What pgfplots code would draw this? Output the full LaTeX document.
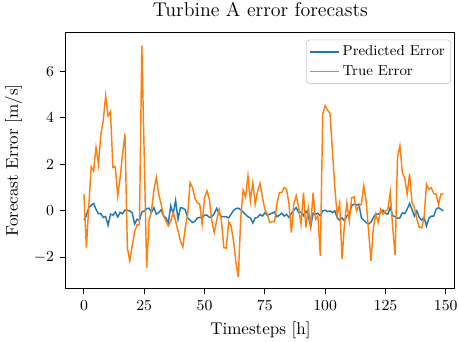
\documentclass[border=0pt]{standalone}
\usepackage{pgfplots}
\pgfplotsset{compat=1.18}
\definecolor{tabblue}{HTML}{1F77B4}
\definecolor{taborange}{HTML}{FF7F0E}
\pgfplotstableread{
t pred true
0 -0.40 0.72
1 -0.20 -1.58
2 0.14 0.20
3 0.24 1.90
4 0.32 1.72
5 0.07 2.73
6 -0.12 2.00
7 -0.12 3.30
8 -0.28 3.88
9 -0.24 4.96
10 -0.62 4.09
11 -0.14 4.28
12 -0.18 1.87
13 -0.05 1.90
14 -0.26 0.65
15 -0.06 1.44
16 -0.12 2.44
17 0.04 3.33
18 0.03 -1.60
19 0.00 -2.15
20 -0.08 -1.50
21 -0.56 -0.90
22 -0.36 -0.60
23 -0.40 -0.60
24 -0.05 7.11
25 0.00 2.30
26 0.10 -2.45
27 0.12 -0.40
28 -0.07 0.00
29 0.14 0.90
30 -0.14 1.44
31 -0.07 0.72
32 0.05 0.29
33 -0.22 -0.22
34 -0.30 -0.43
35 -0.50 -0.65
36 0.22 -0.43
37 -0.14 -0.07
38 0.45 -0.43
39 -0.36 -0.86
40 0.14 -1.29
41 0.12 -1.55
42 0.05 -0.72
43 -0.30 -0.14
44 -0.40 1.22
45 -0.50 1.01
46 -0.45 0.55
47 -0.30 0.36
48 -0.28 0.29
49 -0.30 -0.57
50 -0.18 0.57
51 -0.18 0.86
52 -0.28 0.50
53 -0.25 -0.43
54 -0.12 -0.93
55 0.11 -0.43
56 -0.10 0.07
57 -0.25 -0.43
58 -0.25 -1.58
59 -0.25 -1.60
60 -0.30 -0.46
61 -0.14 -0.65
62 0.02 -1.29
63 0.10 -2.20
64 0.12 -2.85
65 0.05 -0.30
66 -0.05 0.90
67 -0.15 0.60
68 -0.25 1.51
69 -0.30 0.43
70 -0.52 1.22
71 -0.30 0.29
72 -0.28 0.86
73 -0.15 1.18
74 -0.22 0.57
75 -0.08 0.07
76 -0.18 -0.14
77 -0.14 -0.50
78 -0.10 -0.46
79 -0.05 -0.46
80 -0.25 0.29
81 -0.18 0.79
82 -0.10 0.79
83 -0.22 1.01
84 -0.15 0.93
85 -0.28 0.30
86 -0.10 -0.93
87 0.03 0.29
88 0.14 0.65
89 -0.07 0.14
90 -0.05 -0.57
91 -0.20 0.79
92 0.00 -0.72
93 -0.18 0.14
94 -0.70 -0.65
95 -0.10 0.79
96 -0.15 -0.36
97 -0.10 -0.22
98 -0.20 -1.94
99 0.00 4.17
100 0.03 4.53
101 -0.03 4.34
102 0.00 4.20
103 -0.07 2.60
104 0.00 1.00
105 -0.29 -0.20
106 -0.40 0.33
107 -0.30 -2.08
108 -0.43 -0.60
109 -0.22 0.36
110 -0.14 -0.43
111 0.22 0.57
112 0.29 0.60
113 0.25 0.00
114 0.29 0.22
115 -0.29 0.29
116 -0.40 1.08
117 -0.50 0.43
118 -0.57 -0.86
119 -0.48 -2.15
120 -0.29 -0.72
121 -0.12 -0.14
122 -0.14 -0.50
123 -0.07 0.07
124 0.03 -0.14
125 -0.10 0.00
126 -0.14 0.07
127 0.15 0.79
128 -0.20 -0.70
129 -0.25 -1.90
130 -0.32 2.30
131 -0.30 2.80
132 -0.08 1.65
133 -0.12 1.40
134 0.07 0.72
135 0.32 1.60
136 0.07 0.35
137 -0.22 0.14
138 0.00 -0.35
139 -0.28 -0.70
140 -0.40 -0.73
141 -0.28 -0.30
142 -0.65 1.15
143 -0.32 0.93
144 -0.22 1.00
145 -0.22 0.75
146 0.07 0.72
147 0.14 0.29
148 0.07 0.73
149 0.00 0.70
}\datatable
\begin{document}
\begin{tikzpicture}
\useasboundingbox (-38.8pt,-31pt) rectangle (231.2pt,169.6pt);
\begin{axis}[
  at={(0pt,0pt)}, anchor=south west,
  scale only axis, width=228.8pt, height=150.4pt,
  xmin=-7.46, xmax=153.8, ymin=-3.33, ymax=7.67,
  xtick={0,25,...,150}, ytick={-2,0,...,6},
  tick align=outside, tick pos=left,
  major tick length=3.5pt,
  axis line style={line width=0.6pt},
  every tick/.style={black, line width=0.6pt},
  tick label style={font=\fontsize{9}{10}\selectfont},
  xlabel={Timesteps [h]}, ylabel={Forecast Error [m/s]},
  label style={font=\fontsize{10}{12}\selectfont},
  title={Turbine A error forecasts},
  title style={font=\fontsize{11.7}{14}\selectfont},
  legend style={at={(0.99,0.973)}, anchor=north east,
    font=\fontsize{8.5}{10}\selectfont, draw=black!20, rounded corners=2pt,
    fill opacity=0.8, text opacity=1, inner sep=1.5pt},
  legend cell align=left,
  every axis plot/.append style={line width=0.85pt},
]
\addplot[tabblue, no markers] table[x=t, y=pred] {\datatable};
\addlegendentry{Predicted Error}
\addplot[taborange, no markers] table[x=t, y=true] {\datatable};
\addlegendentry{True Error}
\end{axis}
\end{tikzpicture}
\end{document}
